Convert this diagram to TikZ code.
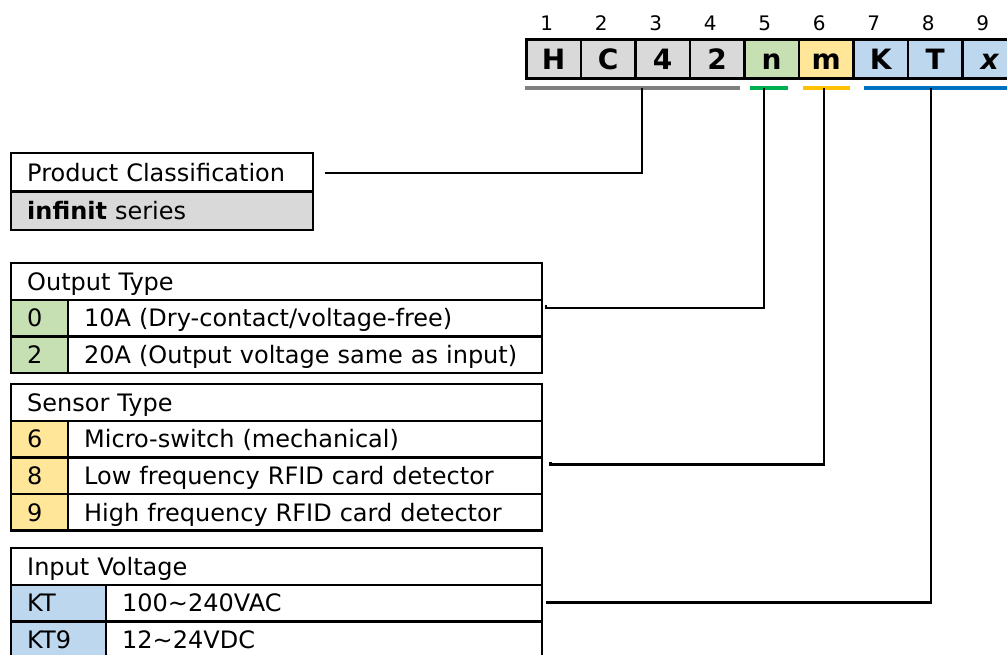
\documentclass[tikz,border=0pt]{standalone}
\usepackage{fontspec}
\setmainfont{DejaVu Sans}
\definecolor{cellgray}{HTML}{D9D9D9}
\definecolor{cellgreen}{HTML}{C6E0B4}
\definecolor{cellyellow}{HTML}{FFE699}
\definecolor{cellblue}{HTML}{BDD7EE}
\definecolor{bargray}{HTML}{808080}
\definecolor{bargreen}{HTML}{00B050}
\definecolor{baryellow}{HTML}{FFC000}
\definecolor{barblue}{HTML}{0070C0}
\begin{document}
\begin{tikzpicture}[x=1pt,y=-1pt,
  cell/.style={draw=black, line width=2.4pt, anchor=north west, inner ysep=0pt, inner xsep=16pt,
    align=left, minimum height=36.6pt, text height=17.5pt, text depth=0pt,
    font=\fontsize{24}{28}\selectfont},
  codebox/.style={draw=black, line width=2.8pt, anchor=north west, inner sep=0pt,
    minimum width=54.5pt, minimum height=39pt, text height=20.4pt, text depth=0pt,
    font=\fontsize{28}{31}\selectfont\bfseries},
  codenum/.style={inner sep=0pt, font=\fontsize{20}{24}\selectfont},
  codebar/.style={inner sep=0pt, minimum height=3.8pt, anchor=west},
  conn/.style={draw=black, line width=2.2pt},
]
\useasboundingbox (0,0) rectangle (1007,655);

% code boxes
\node[codebox, fill=cellgray]   (c1) at (525,38)   {H};
\node[codebox, fill=cellgray]   (c2) at (579.5,38) {C};
\node[codebox, fill=cellgray]   (c3) at (634,38)   {4};
\node[codebox, fill=cellgray]   (c4) at (688.5,38) {2};
\node[codebox, fill=cellgreen]  (c5) at (743,38)   {n};
\node[codebox, fill=cellyellow] (c6) at (797.5,38) {m};
\node[codebox, fill=cellblue]   (c7) at (852,38)   {K};
\node[codebox, fill=cellblue]   (c8) at (906.5,38) {T};
\node[codebox, fill=cellblue]   (c9) at (961,38)   {\itshape x};

\foreach \i in {1,...,9}
  \node[codenum] (n\i) at ({546.75+54.5*(\i-1)},23.3) {\i};

% colour bars
\node[codebar, fill=bargray,   minimum width=214.3pt] (bg) at (525,87.7)   {};
\node[codebar, fill=bargreen,  minimum width=38.4pt]  (bn) at (749.3,87.7) {};
\node[codebar, fill=baryellow, minimum width=47pt]    (bm) at (802.3,87.7) {};
\node[codebar, fill=barblue,   minimum width=150pt]   (bk) at (864,87.7)   {};

\coordinate (gtap) at (641.7,87.7);
\coordinate (ntap) at (764.3,87.7);
\coordinate (mtap) at (824,87.7);
\coordinate (ktap) at (930.7,87.7);

% product classification
\node[cell, minimum width=302pt, text width=270pt, minimum height=38.5pt] (pchead) at (10,152) {Product Classification};
\node[cell, fill=cellgray, minimum width=302pt, text width=270pt, minimum height=38.5pt] (pcseries) at (10,190.5) {\textbf{infinit} series};

% output type
\node[cell, minimum width=530.5pt, text width=498.5pt] (othead) at (10,262) {Output Type};
\node[cell, fill=cellgreen, minimum width=57pt, text width=25pt] (ot0k) at (10,298.6) {0};
\node[cell, minimum width=473.5pt, text width=441.5pt] (ot0v) at (67,298.6) {10A (Dry-contact/voltage-free)};
\node[cell, fill=cellgreen, minimum width=57pt, text width=25pt] (ot2k) at (10,335.2) {2};
\node[cell, minimum width=473.5pt, text width=441.5pt] (ot2v) at (67,335.2) {20A (Output voltage same as input)};

% sensor type
\node[cell, minimum width=530.5pt, text width=498.5pt] (sthead) at (10,383) {Sensor Type};
\node[cell, fill=cellyellow, minimum width=57pt, text width=25pt] (st6k) at (10,419.6) {6};
\node[cell, minimum width=473.5pt, text width=441.5pt] (st6v) at (67,419.6) {Micro-switch (mechanical)};
\node[cell, fill=cellyellow, minimum width=57pt, text width=25pt] (st8k) at (10,456.2) {8};
\node[cell, minimum width=473.5pt, text width=441.5pt] (st8v) at (67,456.2) {Low frequency RFID card detector};
\node[cell, fill=cellyellow, minimum width=57pt, text width=25pt] (st9k) at (10,492.8) {9};
\node[cell, minimum width=473.5pt, text width=441.5pt] (st9v) at (67,492.8) {High frequency RFID card detector};

% input voltage
\node[cell, minimum width=530.5pt, text width=498.5pt] (ivhead) at (10,547) {Input Voltage};
\node[cell, fill=cellblue, minimum width=95pt, text width=63pt] (ivktk) at (10,583.6) {KT};
\node[cell, minimum width=435.5pt, text width=403.5pt] (ivktv) at (105,583.6) {100\textasciitilde240VAC};
\node[cell, fill=cellblue, minimum width=95pt, text width=63pt] (ivkt9k) at (10,620.2) {KT9};
\node[cell, minimum width=435.5pt, text width=403.5pt] (ivkt9v) at (105,620.2) {12\textasciitilde24VDC};

% connectors
\coordinate (pcend) at (325,173.3);
\coordinate (otend) at (546,308);
\coordinate (stend) at (550.5,464.5);
\coordinate (ivend) at (546,602.5);
\draw[conn] (pcend) -| (gtap);
\draw[conn] ([yshift=3pt]otend) -- (otend) -| (ntap);
\draw[conn] ([yshift=3pt]stend) -- (stend) -| (mtap);
\draw[conn] (ivend) -| (ktap);
\end{tikzpicture}
\end{document}
